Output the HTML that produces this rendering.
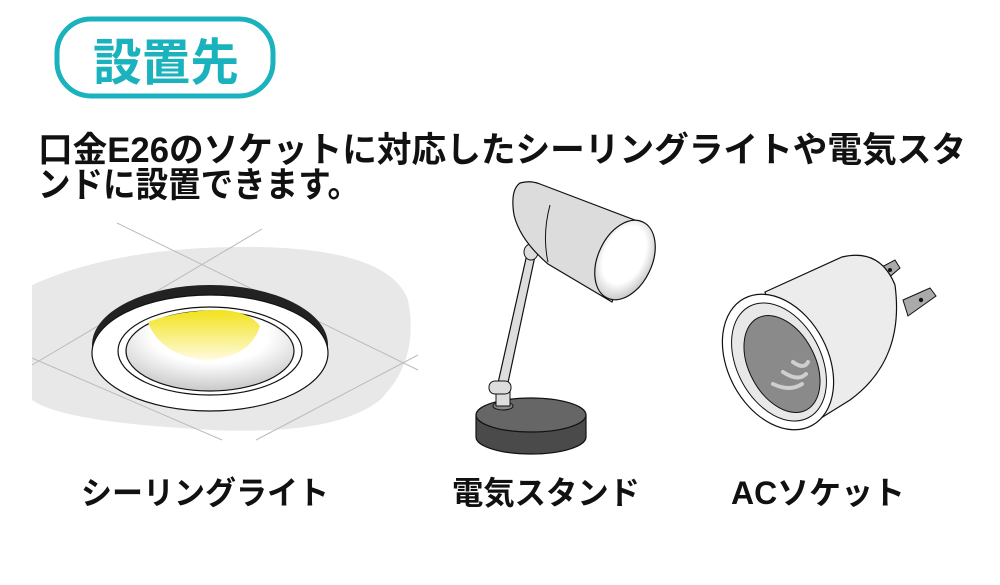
<!DOCTYPE html>
<html><head><meta charset="utf-8"><style>
html,body{margin:0;padding:0;background:#fff;width:1000px;height:585px;overflow:hidden}
svg{display:block}
text{font-family:"Liberation Sans","Noto Sans CJK JP",sans-serif;font-weight:bold}
</style></head><body>
<svg width="1000" height="585" viewBox="0 0 1000 585" xmlns="http://www.w3.org/2000/svg">
<defs>
<linearGradient id="yel" x1="0" y1="0" x2="0" y2="1"><stop offset="0" stop-color="#f2e21a"/><stop offset="1" stop-color="#fffbe0"/></linearGradient>
<radialGradient id="cup" cx="0.5" cy="0.3" r="0.7"><stop offset="0.5" stop-color="#ffffff"/><stop offset="1" stop-color="#c8c8c8"/></radialGradient>
<radialGradient id="shadeIn" cx="0.45" cy="0.45" r="0.6"><stop offset="0.6" stop-color="#fff"/><stop offset="1" stop-color="#c0c0c0"/></radialGradient>
</defs>
<rect x="57" y="19" width="216" height="77" rx="34" fill="#fff" stroke="#1ab2bd" stroke-width="5"/>
<text x="166" y="80" font-size="50" fill="#1ab2bd" text-anchor="middle" textLength="146" lengthAdjust="spacingAndGlyphs">設置先</text>
<text x="38" y="162" font-size="35" fill="#111" textLength="928" lengthAdjust="spacingAndGlyphs">口金E26のソケットに対応したシーリングライトや電気スタ</text>
<text x="38" y="197" font-size="35" fill="#111" textLength="322" lengthAdjust="spacingAndGlyphs">ンドに設置できます。</text>

<path d="M32 285 Q 120 245 260 247 Q 390 250 408 300 Q 420 360 380 400 Q 330 440 180 428 Q 60 420 32 400 Z" fill="#e8e8e8"/>
<g stroke="#bbb" stroke-width="1" fill="none">
<line x1="117" y1="223" x2="418" y2="370"/>
<line x1="262" y1="229" x2="32" y2="365"/>
<line x1="32" y1="358" x2="222" y2="440"/>
<line x1="256" y1="440" x2="418" y2="355"/>
</g>
<ellipse cx="210" cy="345" rx="118" ry="60" fill="#222"/>
<ellipse cx="210" cy="353" rx="118" ry="58" fill="#fff" stroke="#111" stroke-width="1.2"/>
<ellipse cx="210" cy="351" rx="92" ry="44" fill="#fff" stroke="#111" stroke-width="1.2"/>
<ellipse cx="210" cy="351" rx="84" ry="40" fill="url(#cup)" stroke="#111" stroke-width="1.2"/>
<path d="M148 322 Q 180 310 222 310 Q 250 312 260 326 Q 250 358 205 360 Q 160 355 148 322 Z" fill="url(#yel)"/>

<path d="M476 415 L476 437 A55 17 0 0 0 586 437 L586 415 Z" fill="#4a4a4a" stroke="#111" stroke-width="1.2"/>
<ellipse cx="531" cy="415" rx="55" ry="17" fill="#666" stroke="#111" stroke-width="1.2"/>
<ellipse cx="503" cy="406" rx="10" ry="4" fill="#888" stroke="#111"/>
<rect x="496" y="392" width="14" height="14" fill="#ddd" stroke="#111"/>
<path d="M496 392 L527 254 L535 256 L506 392 Z" fill="#ddd" stroke="#111" stroke-width="1.2"/>
<rect x="489" y="381" width="22" height="13" rx="6" fill="#ddd" stroke="#111"/>
<ellipse cx="531" cy="252" rx="7" ry="8" fill="#ddd" stroke="#111"/>
<path d="M520 183 Q 530 180 540 184 L640 222 L612 302 L548 264 Q 520 240 514 215 Q 510 190 520 183 Z" fill="#dcdcdc" stroke="#111" stroke-width="1.2"/>
<path d="M550 205 Q 542 235 548 262" fill="none" stroke="#111"/>
<ellipse cx="625" cy="260" rx="27" ry="42" transform="rotate(25 625 260)" fill="url(#shadeIn)" stroke="#111" stroke-width="1.2"/>

<path d="M880 268 L895 260 L900 268 L886 280 Z" fill="#aaa" stroke="#111"/>
<circle cx="890" cy="270" r="2" fill="#111"/>
<path d="M903 300 L930 288 L936 296 L908 316 Z" fill="#aaa" stroke="#111"/>
<circle cx="921" cy="300" r="2.2" fill="#111"/>
<path d="M765 292 L842 257 Q 880 248 895 285 Q 905 360 850 400 L805 428 Z" fill="#ececec" stroke="#111" stroke-width="1.2"/>
<ellipse cx="778" cy="362" rx="50" ry="72" transform="rotate(-28 778 362)" fill="#fff" stroke="#111" stroke-width="1.2"/>
<ellipse cx="779" cy="362" rx="42" ry="63" transform="rotate(-28 779 362)" fill="#e8e8e8" stroke="#111" stroke-width="1"/>
<ellipse cx="782" cy="364" rx="33" ry="52" transform="rotate(-28 782 364)" fill="#8a8a8a" stroke="#111" stroke-width="1"/>
<g fill="none" stroke="#cfcfcf" stroke-width="4" stroke-linecap="round">
<path d="M773 384 Q 790 392 802 384"/>
<path d="M783 372 Q 798 382 806 374"/>
<path d="M793 362 Q 804 370 808 362"/>
</g>

<text x="205" y="504" font-size="32" fill="#111" text-anchor="middle" textLength="248" lengthAdjust="spacingAndGlyphs">シーリングライト</text>
<text x="546" y="504" font-size="32" fill="#111" text-anchor="middle" textLength="188" lengthAdjust="spacingAndGlyphs">電気スタンド</text>
<text x="818" y="504" font-size="32" fill="#111" text-anchor="middle" textLength="174" lengthAdjust="spacingAndGlyphs">ACソケット</text>
</svg>
</body></html>
